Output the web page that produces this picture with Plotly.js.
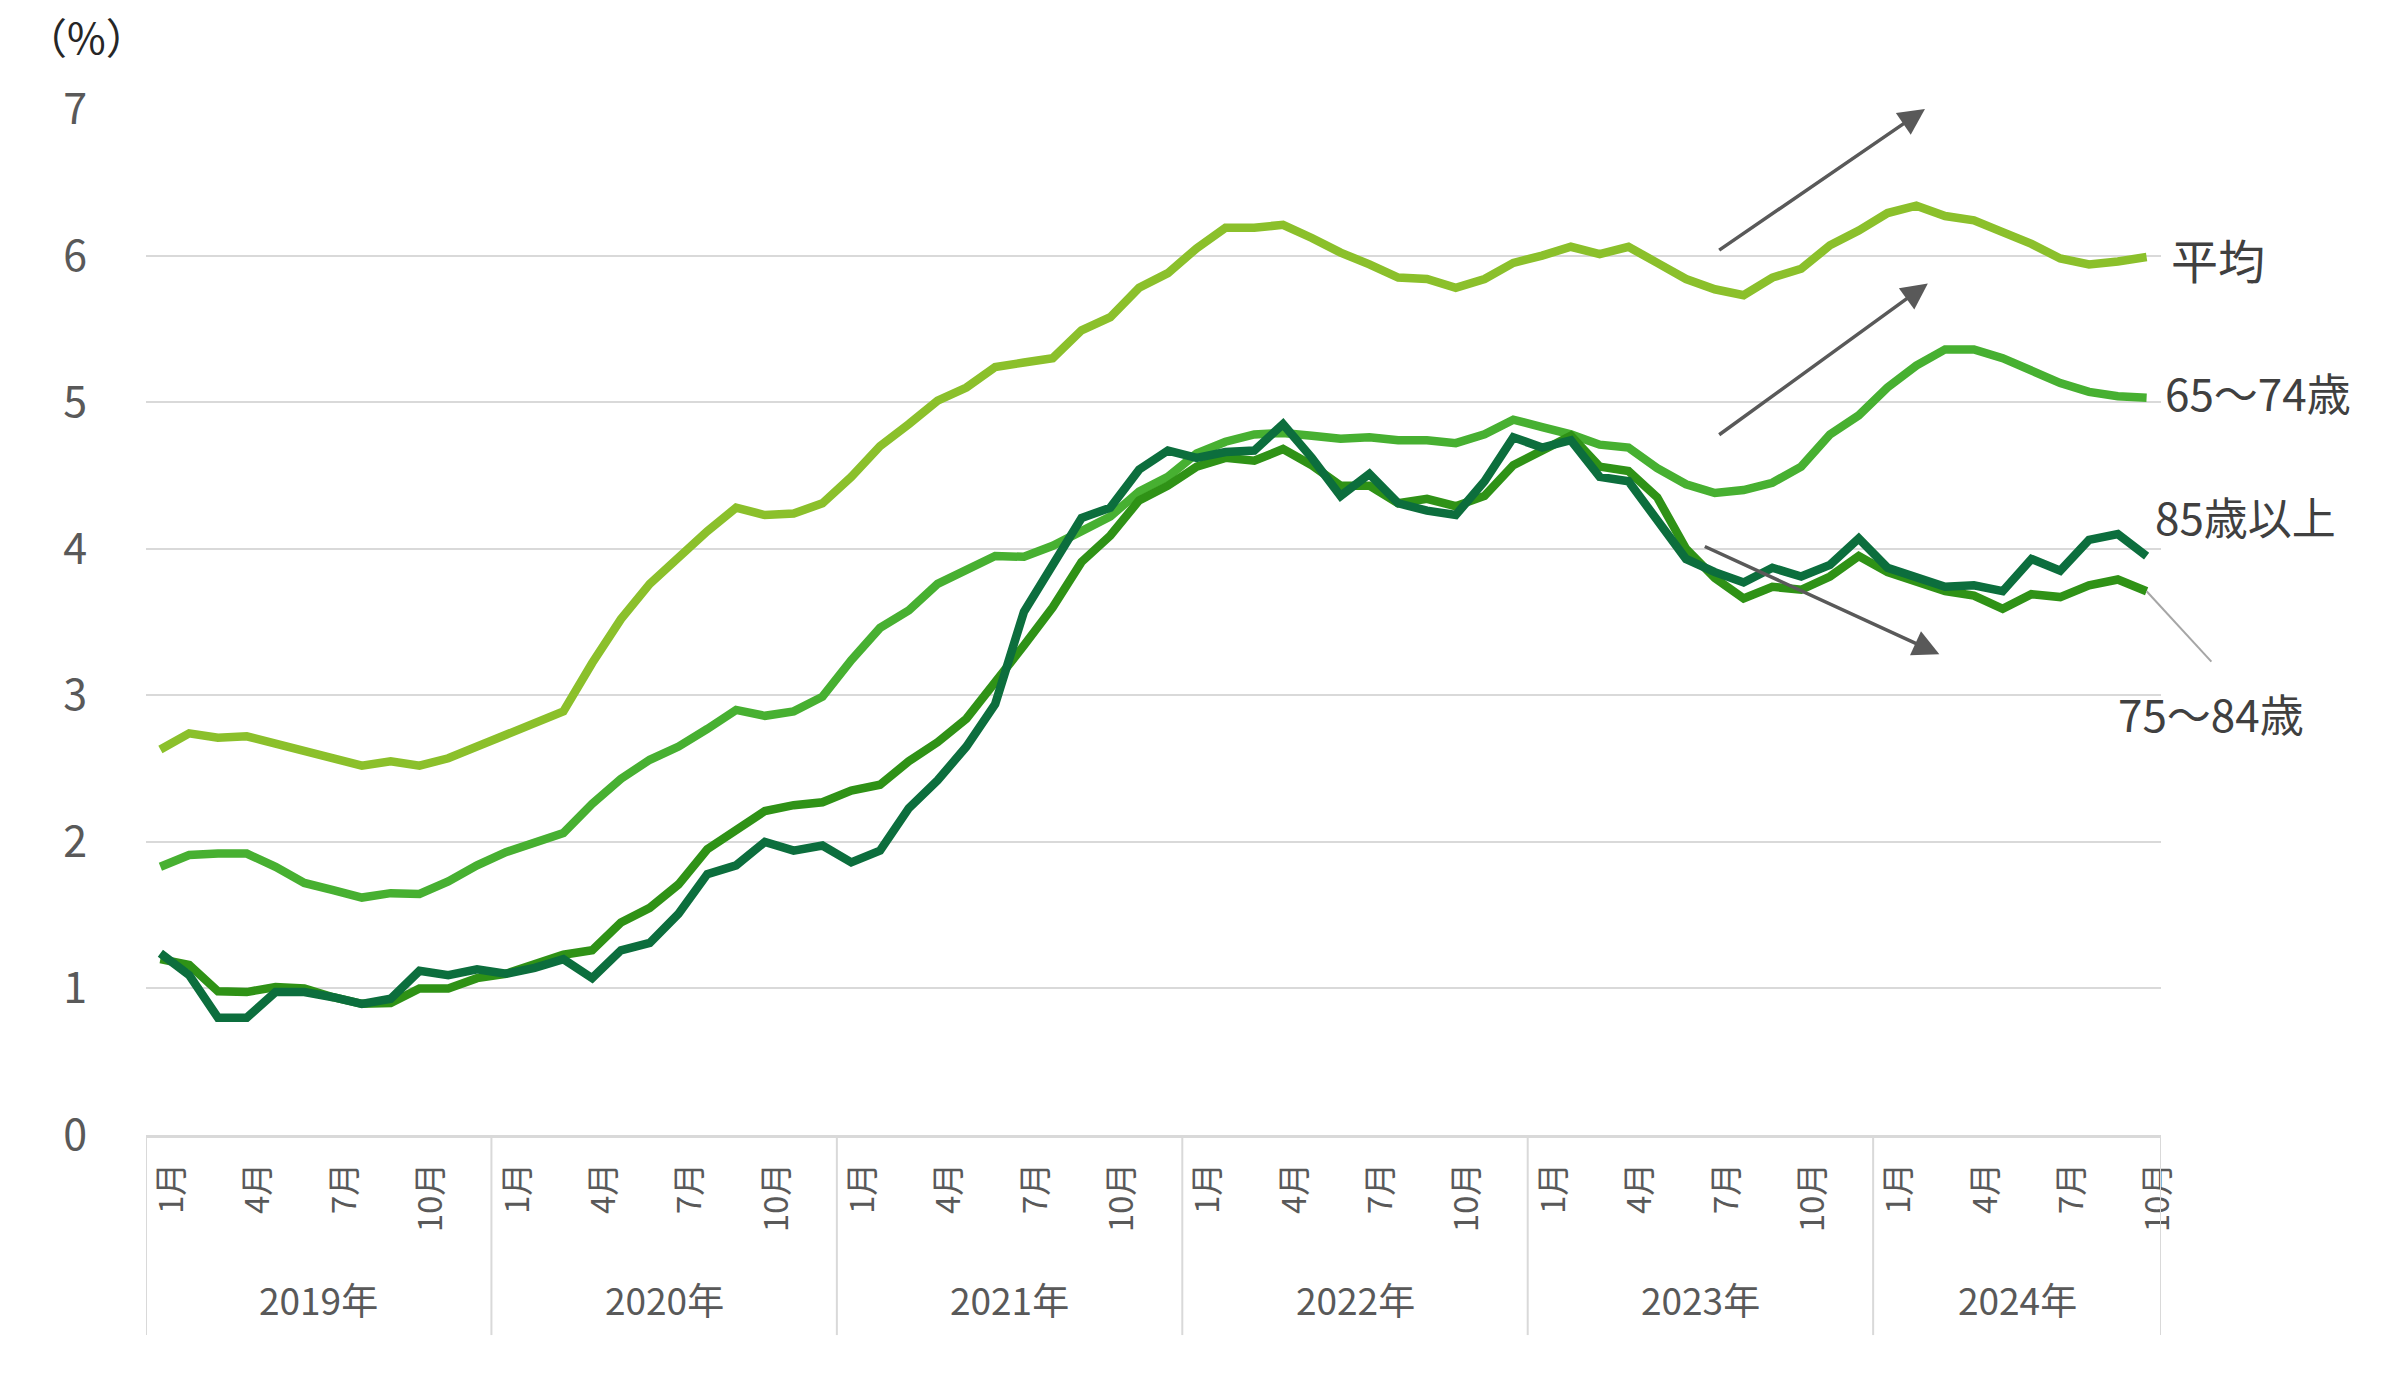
<!DOCTYPE html>
<html>
<head>
<meta charset="utf-8">
<script src="https://cdn.plot.ly/plotly-3.0.1.min.js"></script>
<style>html,body{margin:0;padding:0;background:#fff;}#chart{width:2400px;height:1379px;}</style>
</head>
<body>
<div id="chart"></div>
<script>
// ---- data ----
const years = ['2019年', '2020年', '2021年', '2022年', '2023年', '2024年'];
const monthsPerYear = [12, 12, 12, 12, 12, 10];
const tickMonths = [1, 4, 7, 10];

const seriesNames = ['平均', '65〜74歳', '75〜84歳', '85歳以上'];

const avgAll = [2.63,2.74,2.71,2.72,2.67,2.62,2.58,2.52,2.55,2.52,2.57,2.65,
  2.73,2.81,2.89,3.22,3.52,3.76,3.95,4.12,4.28,4.23,4.24,4.31,
  4.49,4.70,4.85,5.01,5.10,5.24,5.27,5.30,5.49,5.58,5.78,5.88,
  6.05,6.19,6.19,6.21,6.12,6.02,5.94,5.85,5.84,5.78,5.84,5.95,
  6.00,6.06,6.01,6.06,5.95,5.84,5.77,5.73,5.85,5.91,6.07,6.17,
  6.29,6.34,6.27,6.24,6.16,6.08,5.98,5.94,5.96,5.99];

const age6574 = [1.83,1.91,1.92,1.92,1.83,1.72,1.67,1.62,1.65,1.645,1.73,1.84,
  1.93,1.99,2.06,2.26,2.43,2.56,2.65,2.77,2.90,2.86,2.89,2.99,
  3.24,3.46,3.58,3.76,3.85,3.95,3.945,4.02,4.12,4.22,4.39,4.49,
  4.65,4.73,4.78,4.79,4.77,4.75,4.76,4.74,4.74,4.72,4.78,4.88,
  4.83,4.78,4.71,4.69,4.55,4.44,4.38,4.40,4.45,4.56,4.78,4.91,
  5.10,5.25,5.36,5.36,5.30,5.21,5.13,5.07,5.04,5.03];

const age7584 = [1.20,1.16,0.98,0.975,1.01,1.00,0.94,0.895,0.90,1.00,1.00,1.07,
  1.10,1.16,1.23,1.26,1.45,1.55,1.71,1.95,2.08,2.21,2.25,2.27,
  2.35,2.39,2.55,2.68,2.84,3.08,3.34,3.60,3.91,4.09,4.33,4.43,
  4.56,4.62,4.60,4.68,4.57,4.43,4.43,4.31,4.34,4.29,4.36,4.57,
  4.67,4.77,4.56,4.53,4.35,4.00,3.80,3.66,3.74,3.72,3.81,3.95,
  3.84,3.78,3.71,3.68,3.59,3.69,3.67,3.75,3.79,3.71];

const age85 = [1.24,1.09,0.80,0.80,0.975,0.975,0.94,0.895,0.93,1.12,1.09,1.13,
  1.10,1.14,1.20,1.07,1.26,1.31,1.51,1.78,1.84,2.00,1.94,1.975,
  1.86,1.94,2.23,2.42,2.65,2.94,3.57,3.88,4.21,4.28,4.54,4.67,
  4.62,4.66,4.67,4.85,4.62,4.36,4.51,4.31,4.26,4.23,4.46,4.76,
  4.69,4.74,4.49,4.46,4.20,3.93,3.84,3.77,3.87,3.81,3.89,4.07,
  3.87,3.80,3.74,3.75,3.71,3.93,3.85,4.06,4.10,3.95];

// ---- build categories ----
const categories = [];
const tickvals = [], ticktext = [];
const groupStart = [];
years.forEach((y, yi) => {
  groupStart.push(categories.length);
  for (let m = 1; m <= monthsPerYear[yi]; m++) {
    const c = y + m + '月';
    categories.push(c);
    if (tickMonths.includes(m)) { tickvals.push(c); ticktext.push(m + '月'); }
  }
});
const N = categories.length;
const toPaperX = idx => (idx + 0.5) / N;

const colors = ['#8BC02B', '#47B031', '#2F9216', '#0C6E3D'];
const values = [avgAll, age6574, age7584, age85];

const traces = [0, 1, 2, 3].map(i => ({
  type: 'scatter', mode: 'lines', x: categories, y: values[i], name: seriesNames[i],
  line: {color: colors[i], width: 8.5, shape: 'linear'}, hoverinfo: 'skip'
}));

const font = 'Noto Sans CJK JP, Noto Sans, sans-serif';
const gray = '#595959';
const labelColor = '#404040';
const last = N - 1;

const shapes = [];
groupStart.concat([N]).forEach(b => {
  shapes.push({type: 'line', xref: 'x', yref: 'paper', x0: b - 0.5, x1: b - 0.5, y0: 0, y1: -0.195,
    line: {color: '#D9D9D9', width: 2}});
});
// leader line for 75〜84歳
const leadEnd = last + 2.25;
shapes.push({type: 'line', xref: 'paper', yref: 'y', x0: toPaperX(last), y0: age7584[last],
  x1: toPaperX(leadEnd), y1: age7584[last] - 0.48, line: {color: '#A6A6A6', width: 2}});

const annotations = [];
years.forEach((y, yi) => {
  annotations.push({xref: 'x', yref: 'paper', x: groupStart[yi] + (monthsPerYear[yi] - 1) / 2, y: -0.16,
    text: y, showarrow: false, font: {family: font, size: 37, color: gray}, xanchor: 'center', yanchor: 'middle'});
});
annotations.push({xref: 'paper', yref: 'paper', x: -0.0293, y: 1.072, text: '（%）', showarrow: false,
  font: {family: 'Noto Sans CJK JP', size: 42, color: '#262626'}, xanchor: 'center', yanchor: 'middle'});

// series end labels
annotations.push({xref: 'x', yref: 'y', x: last, y: avgAll[last] - 0.01, xshift: 22, text: seriesNames[0], showarrow: false,
  xanchor: 'left', yanchor: 'middle', font: {family: font, size: 47, color: labelColor}});
annotations.push({xref: 'x', yref: 'y', x: last, y: age6574[last] + 0.04, xshift: 16, text: seriesNames[1], showarrow: false,
  xanchor: 'left', yanchor: 'middle', font: {family: font, size: 44, color: labelColor}});
annotations.push({xref: 'x', yref: 'y', x: last, y: age85[last] + 0.27, xshift: 6, text: seriesNames[3], showarrow: false,
  xanchor: 'left', yanchor: 'middle', font: {family: font, size: 44, color: labelColor}});
annotations.push({xref: 'paper', yref: 'y', x: toPaperX(leadEnd), y: age7584[last] - 0.83, text: seriesNames[2], showarrow: false,
  xanchor: 'center', yanchor: 'middle', font: {family: font, size: 44, color: labelColor}});

// trend arrows
const arrows = [
  {x: 61.3, y: 7.0, ax: 54.1, ay: 6.03},
  {x: 61.4, y: 5.81, ax: 54.1, ay: 4.77},
  {x: 61.8, y: 3.28, ax: 53.6, ay: 4.02}
];
arrows.forEach(a => {
  annotations.push({xref: 'x', yref: 'y', axref: 'x', ayref: 'y', x: a.x, y: a.y, ax: a.ax, ay: a.ay,
    text: '', showarrow: true, arrowhead: 2, arrowsize: 1.5, arrowwidth: 3.5, arrowcolor: '#595959'});
});

const layout = {
  width: 2400, height: 1379,
  margin: {l: 146, r: 239, t: 109, b: 244},
  paper_bgcolor: '#fff', plot_bgcolor: '#fff',
  showlegend: false, hovermode: false,
  xaxis: {
    type: 'category', categoryorder: 'array', categoryarray: categories,
    range: [-0.5, N - 0.5], tickvals: tickvals, ticktext: ticktext, tickangle: -90,
    tickfont: {family: font, size: 33, color: gray}, ticks: '', ticklabelstandoff: 12, ticklabelshift: 12,
    showgrid: false, showline: true, linecolor: '#D9D9D9', linewidth: 2.5, zeroline: false
  },
  yaxis: {
    range: [0, 7], dtick: 1, tick0: 0, showgrid: true, gridcolor: '#D9D9D9', gridwidth: 2,
    zeroline: false, showline: false, ticks: '', ticklabelstandoff: 58,
    tickfont: {family: font, size: 43, color: gray}
  },
  shapes: shapes, annotations: annotations
};

Plotly.newPlot('chart', traces, layout, {staticPlot: true, displayModeBar: false});
</script>
</body>
</html>
